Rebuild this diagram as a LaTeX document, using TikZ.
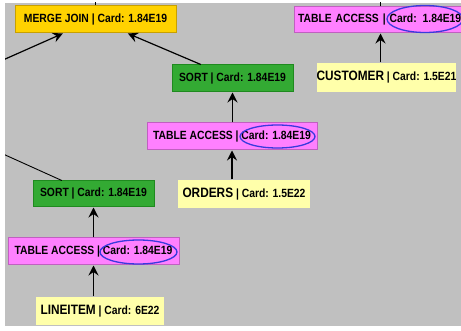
\documentclass[tikz,border=0pt]{standalone}
\usepackage{fontspec}
\setmainfont{Liberation Sans}
\newfontfamily\boxfont[FakeStretch=0.87]{Liberation Sans}
\usetikzlibrary{arrows.meta,shapes.geometric,calc}
\definecolor{bggray}{HTML}{C0C0C0}
\definecolor{mjfill}{HTML}{FFD200}
\definecolor{mjdraw}{HTML}{C8A000}
\definecolor{sortfill}{HTML}{33AA33}
\definecolor{sortdraw}{HTML}{1F8A1F}
\definecolor{tafill}{HTML}{FF80FF}
\definecolor{tadraw}{HTML}{C060C0}
\definecolor{tblfill}{HTML}{FFFFAA}
\definecolor{ellblue}{HTML}{3A3ADD}
\tikzset{
  x=1pt, y=-1pt,
  opbox/.style={rectangle, inner sep=0pt, line width=1pt, font=\boxfont\fontsize{11.9}{13}\selectfont\bfseries, text=black},
  joinbox/.style={opbox, fill=mjfill, draw=mjdraw},
  sortbox/.style={opbox, fill=sortfill, draw=sortdraw},
  accbox/.style={opbox, fill=tafill, draw=tadraw},
  tblbox/.style={opbox, fill=tblfill, draw=none},
  cardell/.style={ellipse, draw=ellblue, line width=1.3pt, inner sep=0pt},
  arr/.style={-{Stealth[length=10pt,width=10pt,inset=3.5pt]}, line width=1.2pt, black},
  edge/.style={line width=0.9pt, black},
}
\newcommand{\tname}[1]{{\fontsize{13.6}{15}\selectfont #1}}
\begin{document}
\begin{tikzpicture}
\useasboundingbox (0,0) rectangle (461,331);
\fill[white] (0,0) rectangle (461,331);
\fill[bggray] (5,3) rectangle (461,326);
\begin{scope}
\clip (5,3) rectangle (461,326);
% nodes
\node[joinbox, minimum width=161pt, minimum height=27pt] (mj) at (95.5,19.5) {MERGE JOIN | Card: 1.84E19};
\node[sortbox, minimum width=121pt, minimum height=27pt] (sort1) at (232.5,78.5) {SORT | Card: 1.84E19};
\node[accbox, minimum width=170pt, minimum height=27pt] (ta1) at (232,136.5) {TABLE ACCESS | Card: 1.84E19};
\node[tblbox, minimum width=132pt, minimum height=28pt] (orders) at (244,194) {\tname{ORDERS} | Card: 1.5E22};
\node[sortbox, minimum width=121pt, minimum height=26pt] (sort2) at (93.5,194) {SORT | Card: 1.84E19};
\node[accbox, minimum width=171pt, minimum height=27pt] (ta2) at (93.5,251.5) {TABLE ACCESS | Card: 1.84E19};
\node[tblbox, minimum width=128pt, minimum height=28pt] (lineitem) at (100,311) {\tname{LINEITEM} | Card: 6E22};
\node[accbox, minimum width=173pt, minimum height=26pt, text width=165pt, align=left] (ta3) at (380.5,20) {TABLE ACCESS | Card: 1.84E19};
\node[tblbox, minimum width=137pt, minimum height=29pt] (customer) at (386.5,77.5) {\tname{CUSTOMER} | Card: 1.5E21};
% ellipses
\node[cardell, minimum width=75pt, minimum height=23pt] (e1) at ($(ta1.center)+(45.5,0)$) {};
\node[cardell, minimum width=77pt, minimum height=24pt] (e2) at ($(ta2.center)+(45,0.5)$) {};
\node[cardell, minimum width=76pt, minimum height=27pt] (e3) at ($(ta3.center)+(44.5,-1)$) {};
% off-screen ends
\coordinate (offL) at (-20,70.2);
\coordinate (offS) at (-20,143.6);
\coordinate (mjup) at (95.5,-10);
\coordinate (ta3up) at (380.5,-10);
% connectors
\draw[arr] ($(sort1.north west)!0.24!(sort1.north east)$) -- ($(mj.south west)!0.7!(mj.south east)$);
\draw[arr] (offL) -- ($(mj.south west)!0.298!(mj.south east)$);
\draw[edge] ($(sort2.north west)!0.24!(sort2.north east)$) -- (offS);
\draw[edge] (mj.north) -- (mjup);
\draw[edge] (ta3.north) -- (ta3up);
\draw[arr] (ta1.north -| sort1.south) -- (sort1.south);
\draw[arr] (orders.north -| ta1.south) -- (ta1.south);
\draw[arr] (ta2.north -| sort2.south) -- (sort2.south);
\draw[arr] (lineitem.north -| ta2.south) -- (ta2.south);
\draw[arr] (customer.north -| ta3.south) -- (ta3.south);
\end{scope}
\end{tikzpicture}
\end{document}
